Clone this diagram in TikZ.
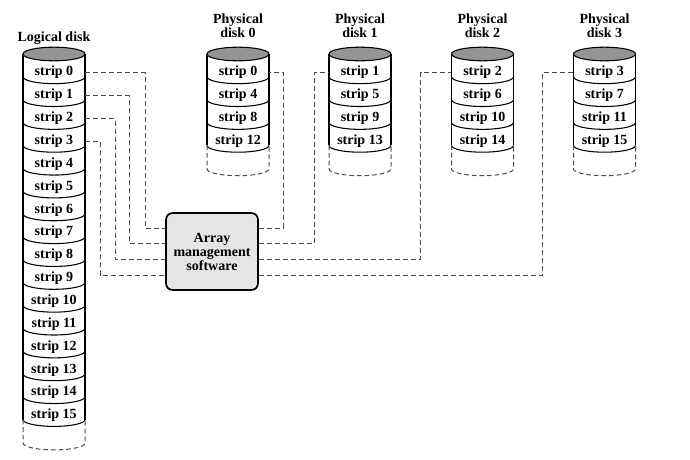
\documentclass[tikz,border=0pt]{standalone}
\usepackage{fontspec}
\setmainfont{Liberation Serif}
\usetikzlibrary{calc}

% Cylinder outline: shaded top, solid sides, one arc per strip, dashed open end
\newcommand{\diskbody}[2]{%
  \pgfmathsetmacro\dbot{54+22.85*#2}%
  \draw[disko, fill=black!42] (#1,54) ellipse [x radius=31, y radius=6.8];
  \draw[disko] (#1-31,54) -- (#1-31,\dbot) (#1+31,54) -- (#1+31,\dbot);
  \foreach \k in {1,...,#2}
    \draw[disko] (#1-31,{54+22.85*\k}) arc[start angle=180, end angle=0, x radius=31, y radius=6.8];
  \draw[diskd] (#1-31,\dbot) -- ++(0,23.5)
    arc[start angle=180, end angle=0, x radius=31, y radius=6.8] -- ++(0,-23.5);
}

\begin{document}
\begin{tikzpicture}[x=0.75pt, y=-0.75pt,
  lbl/.style={font=\fontsize{10.5}{10.5}\selectfont\bfseries, align=center},
  stripbox/.style={lbl, minimum width=46.5pt, minimum height=15pt, inner sep=0pt},
  disko/.style={line width=0.8pt},
  diskd/.style={line width=0.75pt, black!70, dash pattern=on 3.5pt off 2.2pt},
  conn/.style={line width=0.75pt, black!70, dash pattern=on 3.75pt off 2.25pt},
  mgr/.style={lbl, draw, line width=1.3pt, rounded corners=5pt, fill=black!10,
    minimum width=69pt, minimum height=57.75pt, inner sep=1pt}]
\useasboundingbox (0,0) rectangle (690,460);

% Logical disk
\diskbody{54}{16}
\foreach \k in {0,...,15}
  \node[stripbox] (L\k) at (54,{72.6+22.85*\k}) {strip \k};
\node[lbl] (lhead) at (54,38) {Logical disk};

% Physical disks
\foreach \d/\cx in {0/238,1/360,2/482.5,3/604.5} {
  \diskbody{\cx}{4}
  \foreach \j in {0,...,3} {
    \pgfmathtruncatemacro\s{4*\j+\d}
    \node[stripbox] (d\d s\j) at (\cx,{72.6+22.85*\j}) {strip \s};
  }
  \node[lbl] (h\d) at (\cx,26) {Physical\\disk \d};
}

% Array management software
\node[mgr] (ams) at (212,251.5) {Array\\management\\software};

% Logical strips into the manager
\draw[conn] (L0.east) -| (145,228) -- (ams.west |- 0,228);
\draw[conn] (L1.east) -| (129,243) -- (ams.west |- 0,243);
\draw[conn] (L2.east) -| (115,259) -- (ams.west |- 0,259);
\draw[conn] (L3.east) -| (100,275) -- (ams.west |- 0,275);

% Manager out to the physical disks
\draw[conn] (ams.east |- 0,228) -| ($(d0s0.east)+(14,0)$) -- (d0s0.east);
\draw[conn] (ams.east |- 0,243) -| ($(d1s0.west)+(-14,0)$) -- (d1s0.west);
\draw[conn] (ams.east |- 0,259) -| ($(d2s0.west)+(-30.5,0)$) -- (d2s0.west);
\draw[conn] (ams.east |- 0,275) -| ($(d3s0.west)+(-30.5,0)$) -- (d3s0.west);
\end{tikzpicture}
\end{document}
